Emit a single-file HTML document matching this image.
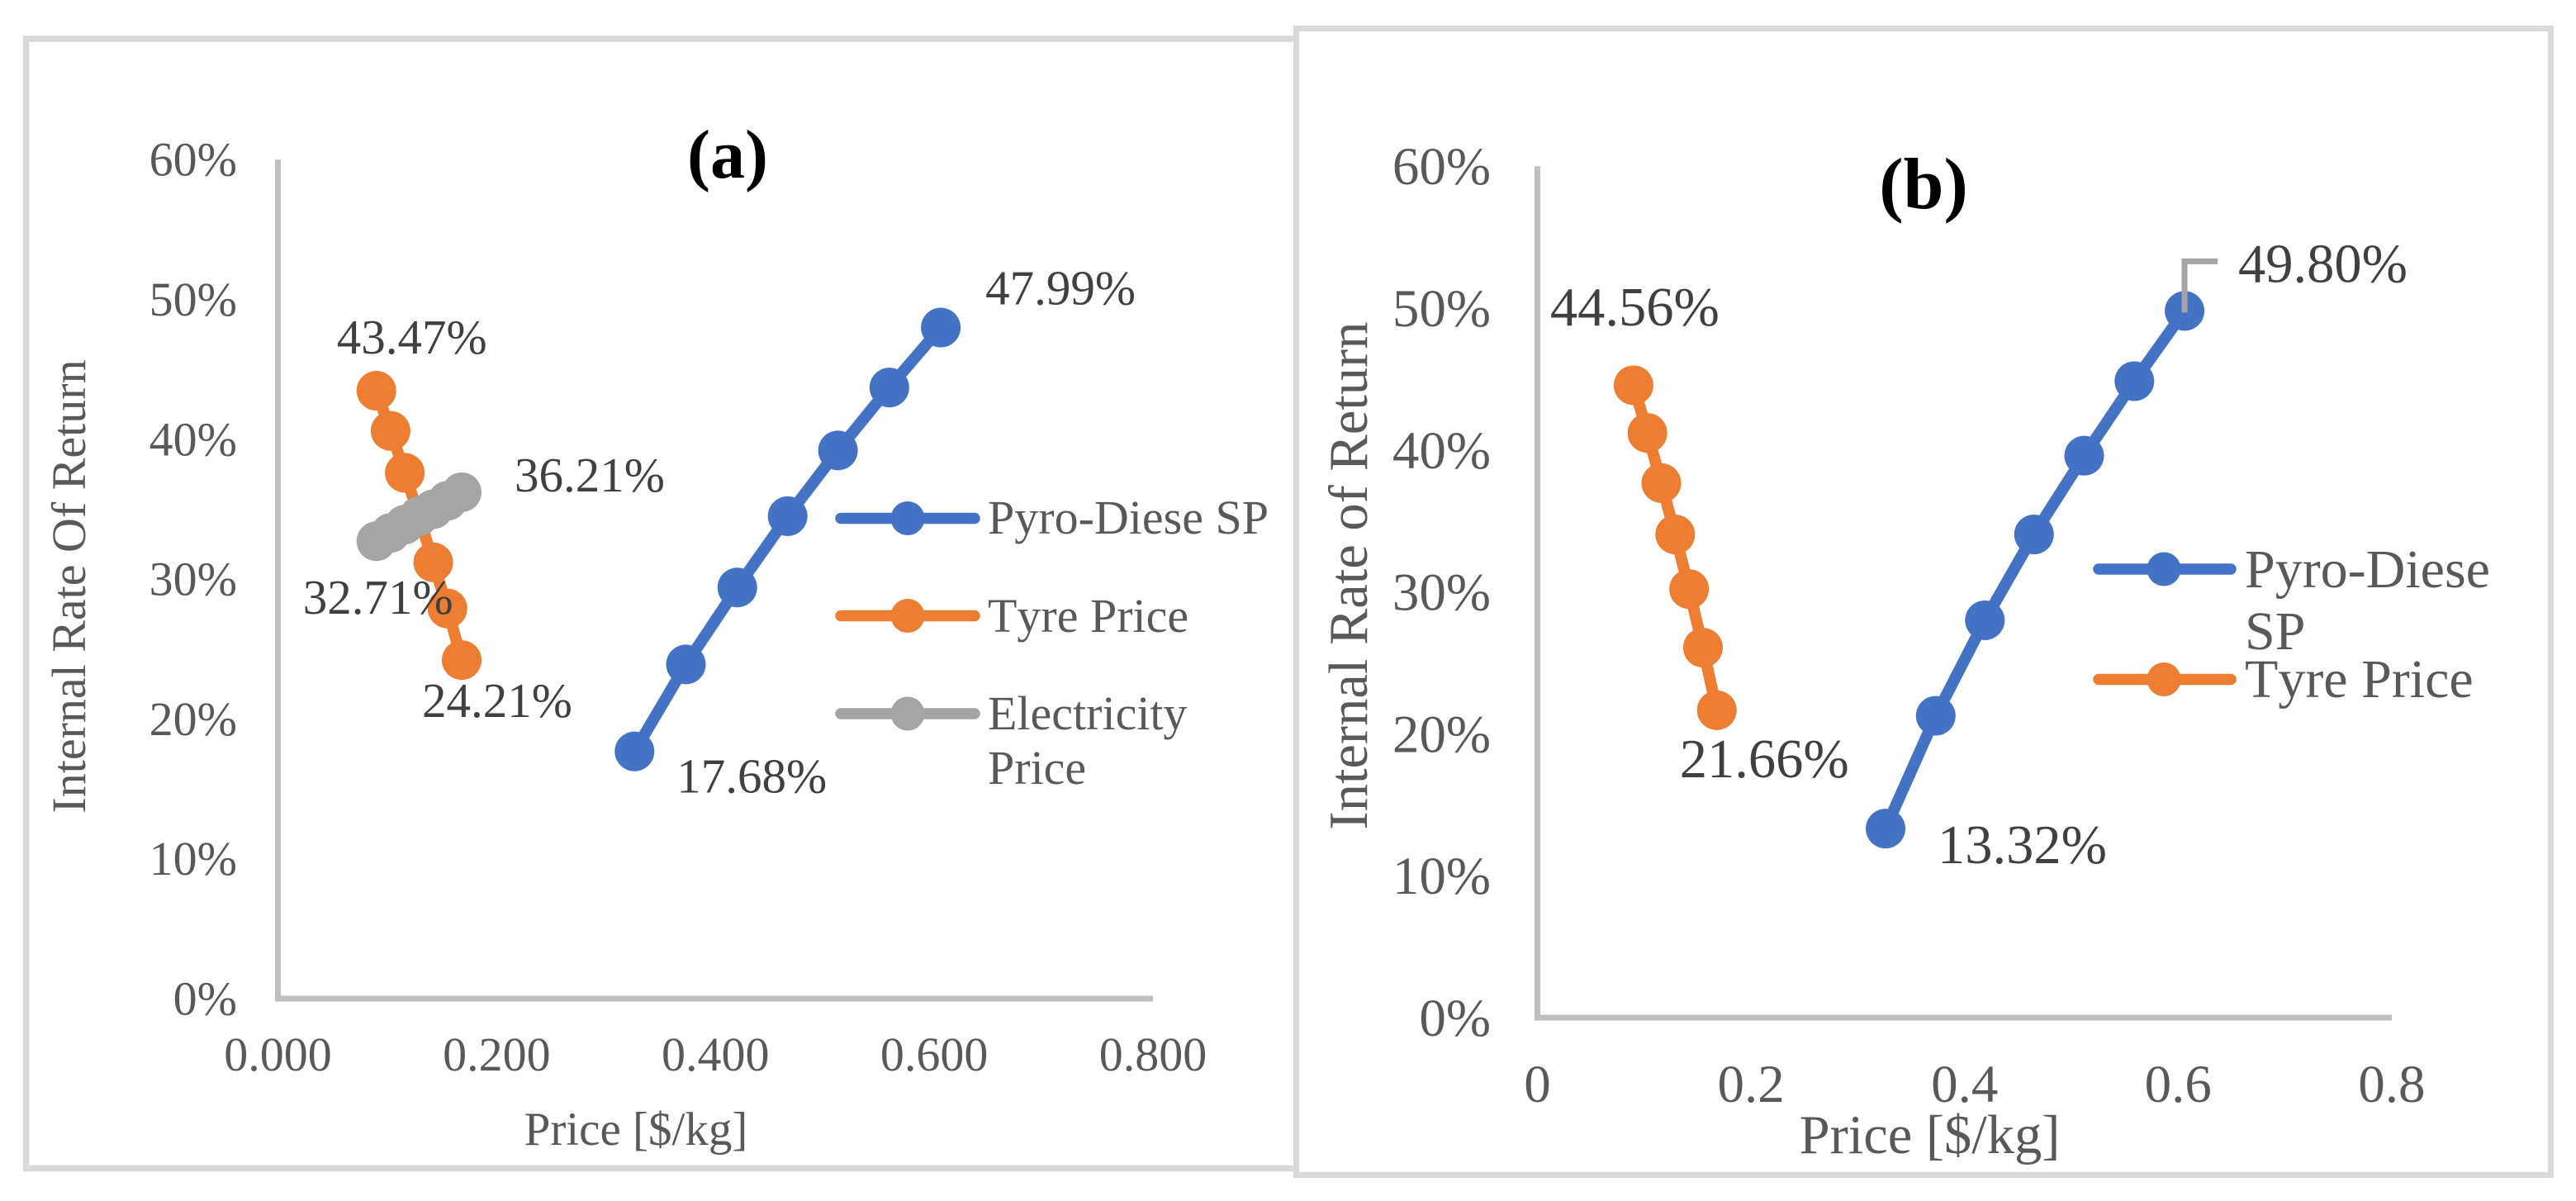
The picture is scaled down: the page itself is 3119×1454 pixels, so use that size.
<!DOCTYPE html>
<html lang="en">
<head>
<meta charset="utf-8">
<title>Internal Rate of Return vs Price</title>
<style>
html,body{margin:0;padding:0;background:#fff;width:3119px;height:1454px;overflow:hidden}
svg{display:block;font-family:"Liberation Serif",serif;font-kerning:none}
</style>
</head>
<body>
<svg id="fig" xmlns="http://www.w3.org/2000/svg" width="3119" height="1454" viewBox="0 0 3119 1454">
  <rect width="3119" height="1454" fill="#fff"/>
  <path d="M1569 47H31.5V1414.5H1569" fill="none" stroke="#d9d9d9" stroke-width="7.5"/>
  <rect x="1569.5" y="34.5" width="1519" height="1388" fill="none" stroke="#d9d9d9" stroke-width="7"/>
  <g id="chart-a">
    <text x="881" y="215" font-size="84" font-weight="bold" text-anchor="middle" fill="#000">(a)</text>
    <text x="770" y="1386" font-size="57" text-anchor="middle" fill="#595959">Price [$/kg]</text>
    <text transform="translate(103,710) rotate(-90)" font-size="58" text-anchor="middle" fill="#595959">Internal Rate Of Return</text>
    <g>
      <text x="1196" y="646" font-size="58" fill="#595959">Pyro-Diese SP</text>
      <text x="1196" y="765" font-size="58" fill="#595959">Tyre Price</text>
      <text font-size="58" fill="#595959"><tspan x="1196" y="883">Electricity</tspan><tspan x="1196" y="949">Price</tspan></text>
    </g>
  </g>
  <g id="chart-b">
    <text x="2329" y="252" font-size="88" font-weight="bold" text-anchor="middle" fill="#000">(b)</text>
    <text x="2336.5" y="1396" font-size="66.5" text-anchor="middle" fill="#595959">Price [$/kg]</text>
    <text transform="translate(1655,697) rotate(-90)" font-size="66.5" text-anchor="middle" fill="#595959">Internal Rate of Return</text>
    <g>
      <text font-size="66" fill="#595959"><tspan x="2718" y="711">Pyro-Diese</tspan><tspan x="2718" y="786">SP</tspan></text>
      <text x="2718" y="844" font-size="66" fill="#595959">Tyre Price</text>
    </g>
  </g>
</svg>
<script>
// ---- Chart (a) data ----
const pyroPriceA = [0.326, 0.373, 0.42, 0.466, 0.512, 0.559, 0.606];
const pyroIrrA = [17.68, 23.9, 29.4, 34.5, 39.2, 43.7, 47.99];
const tyrePriceA = [0.09, 0.103, 0.116, 0.129, 0.142, 0.155, 0.168];
const tyreIrrA = [43.47, 40.6, 37.6, 34.5, 31.2, 27.9, 24.21];
const elecPriceA = [0.09, 0.103, 0.116, 0.129, 0.142, 0.155, 0.168];
const elecIrrA = [32.71, 33.3, 33.9, 34.5, 35.0, 35.6, 36.21];
const xTickValuesA = [0, 0.2, 0.4, 0.6, 0.8];
const xTickLabelsA = ["0.000", "0.200", "0.400", "0.600", "0.800"];
const yTickValuesA = [0, 10, 20, 30, 40, 50, 60];
const yTickLabelsA = ["0%", "10%", "20%", "30%", "40%", "50%", "60%"];

// ---- Chart (b) data ----
const pyroPriceB = [0.326, 0.373, 0.419, 0.465, 0.512, 0.559, 0.606];
const pyroIrrB = [13.32, 21.27, 28.0, 34.05, 39.6, 44.85, 49.8];
const tyrePriceB = [0.09, 0.103, 0.116, 0.129, 0.142, 0.155, 0.168];
const tyreIrrB = [44.56, 41.2, 37.67, 34.05, 30.2, 26.07, 21.66];
const xTickValuesB = [0, 0.2, 0.4, 0.6, 0.8];
const xTickLabelsB = ["0", "0.2", "0.4", "0.6", "0.8"];
const yTickValuesB = [0, 10, 20, 30, 40, 50, 60];
const yTickLabelsB = ["0%", "10%", "20%", "30%", "40%", "50%", "60%"];

const NS = "http://www.w3.org/2000/svg";
const BLUE = "#4472c4", ORANGE = "#ed7d31", GRAY = "#a5a5a5";

function mk(parent, tag, attrs, txt) {
  const el = document.createElementNS(NS, tag);
  for (const k in attrs) el.setAttribute(k, attrs[k]);
  if (txt !== undefined) el.textContent = txt;
  parent.appendChild(el);
  return el;
}

// Axis functions
const xA = v => 336.5 + v * 1324.4;
const yA = v => 1209 - v * 16.93;
const xB = v => 1861.5 + v * 1293;
const yB = v => 1232 - v * 17.18;

function drawAxes(g, xf, yf, xVals, xLabs, yVals, yLabs, opt) {
  const xMax = xVals[xVals.length - 1], yMax = yVals[yVals.length - 1];
  const ya = mk(g, "line", {x1: xf(0), y1: yf(yMax), x2: xf(0), y2: yf(0) + opt.w / 2, stroke: "#bfbfbf", "stroke-width": opt.w});
  
  
  const xa = mk(g, "line", {x1: xf(0), y1: yf(0), x2: xf(xMax), y2: yf(0), stroke: "#bfbfbf", "stroke-width": opt.w});
  
  
  yVals.forEach((v, i) => {
    const t = mk(g, "text", {x: opt.yTickX, y: yf(v) + opt.yTickDy, "font-size": opt.tickSize, "text-anchor": "end", fill: "#595959"}, yLabs[i]);
    
    
  });
  xVals.forEach((v, i) => {
    const t = mk(g, "text", {x: xf(v), y: opt.xTickY, "font-size": opt.tickSize, "text-anchor": "middle", fill: "#595959"}, xLabs[i]);
    
    
  });
}

function drawSeries(g, name, xs, ys, xf, yf, color) {
  const s = mk(g, "g", {});
  
  
  const pts = xs.map((x, i) => xf(x).toFixed(1) + "," + yf(ys[i]).toFixed(1)).join(" ");
  const line = mk(s, "polyline", {points: pts, fill: "none", stroke: color, "stroke-width": 14, "stroke-linejoin": "round", "stroke-linecap": "round"});
  
  
  xs.forEach((x, i) => {
    const c = mk(s, "circle", {cx: xf(x), cy: yf(ys[i]), r: 24, fill: color});
    
    
  });
}

function dataLabel(g, xs, ys, i, xf, yf, dx, dy, size) {
  const t = mk(g, "text", {x: xf(xs[i]) + dx, y: yf(ys[i]) + dy, "font-size": size, fill: "#404040"}, ys[i].toFixed(2) + "%");
  
  
}

function legendKey(g, name, x1, x2, cx, y, color) {
  const l = mk(g, "line", {x1: x1, y1: y, x2: x2, y2: y, stroke: color, "stroke-width": 13.5, "stroke-linecap": "round"});
  
  
  const c = mk(g, "circle", {cx: cx, cy: y, r: 20.5, fill: color});
  
  
}

// ---- Chart (a) ----
const gA = document.getElementById("chart-a");
drawAxes(gA, xA, yA, xTickValuesA, xTickLabelsA, yTickValuesA, yTickLabelsA, {w: 7, tickSize: 58, yTickX: 287, yTickDy: 19.5, xTickY: 1296});
drawSeries(gA, "pyro-diesel", pyroPriceA, pyroIrrA, xA, yA, BLUE);
drawSeries(gA, "tyre-price", tyrePriceA, tyreIrrA, xA, yA, ORANGE);
drawSeries(gA, "electricity-price", elecPriceA, elecIrrA, xA, yA, GRAY);
dataLabel(gA, pyroPriceA, pyroIrrA, 6, xA, yA, 54, -28, 59);
dataLabel(gA, pyroPriceA, pyroIrrA, 0, xA, yA, 51, 50, 59);
dataLabel(gA, tyrePriceA, tyreIrrA, 0, xA, yA, -48, -45, 59);
dataLabel(gA, tyrePriceA, tyreIrrA, 6, xA, yA, -48, 69, 59);
dataLabel(gA, elecPriceA, elecIrrA, 6, xA, yA, 64, -1, 59);
dataLabel(gA, elecPriceA, elecIrrA, 0, xA, yA, -89, 88, 59);
legendKey(gA, "pyro-diesel", 1018, 1180, 1099, 627.5, BLUE);
legendKey(gA, "tyre-price", 1018, 1180, 1099, 745.5, ORANGE);
legendKey(gA, "electricity-price", 1018, 1180, 1099, 864, GRAY);

// ---- Chart (b) ----
const gB = document.getElementById("chart-b");
drawAxes(gB, xB, yB, xTickValuesB, xTickLabelsB, yTickValuesB, yTickLabelsB, {w: 7, tickSize: 65, yTickX: 1805, yTickDy: 22, xTickY: 1334});
drawSeries(gB, "pyro-diesel-b", pyroPriceB, pyroIrrB, xB, yB, BLUE);
drawSeries(gB, "tyre-price-b", tyrePriceB, tyreIrrB, xB, yB, ORANGE);
const lastX = xB(pyroPriceB[6]), lastY = yB(pyroIrrB[6]);
const leader = mk(gB, "polyline", {points: lastX + "," + (lastY + 2) + " " + lastX + "," + (lastY - 60) + " " + (lastX + 40) + "," + (lastY - 60), fill: "none", stroke: GRAY, "stroke-width": 7});


dataLabel(gB, pyroPriceB, pyroIrrB, 6, xB, yB, 65, -35, 66.5);
dataLabel(gB, pyroPriceB, pyroIrrB, 0, xB, yB, 63, 42, 66.5);
dataLabel(gB, tyrePriceB, tyreIrrB, 0, xB, yB, -101, -72.5, 66.5);
dataLabel(gB, tyrePriceB, tyreIrrB, 6, xB, yB, -45, 81, 66.5);
legendKey(gB, "pyro-diesel-b", 2541, 2701, 2620, 689, BLUE);
legendKey(gB, "tyre-price-b", 2541, 2701, 2620, 822.5, ORANGE);
</script>
</body>
</html>
